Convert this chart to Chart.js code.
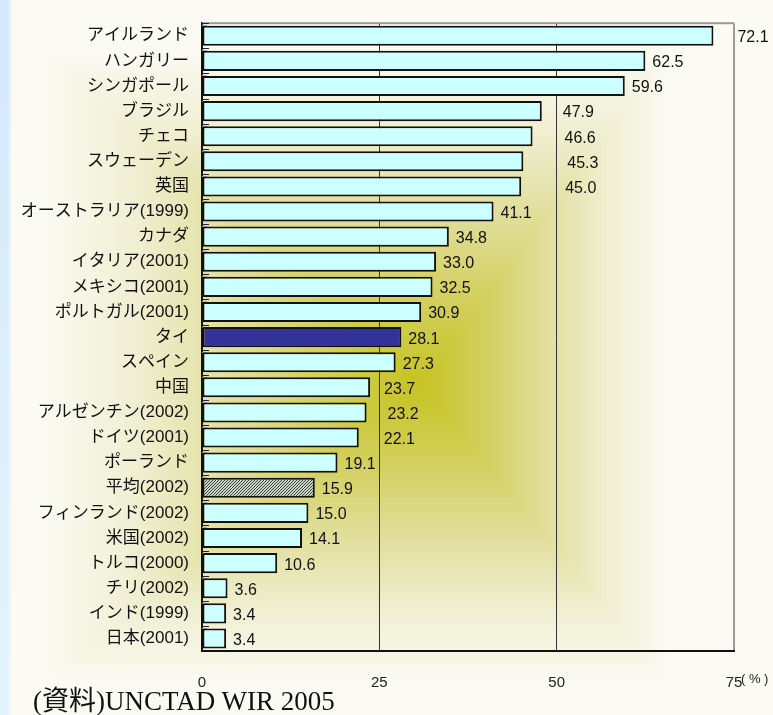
<!DOCTYPE html>
<html>
<head>
<meta charset="utf-8">
<script src="https://cdn.jsdelivr.net/npm/chart.js@4"></script>
<style>
  body { margin: 0; background: #fbfbf4; }
  #wrap { position: relative; width: 773px; height: 715px; overflow: hidden; }
  #pct { position: absolute; left: 741px; top: 671px; font: 13px "Liberation Sans", sans-serif; white-space: pre; color: #222; }
  #source { position: absolute; left: 33px; top: 679px; white-space: nowrap; line-height: 30px; color: #111; font: 27px "Liberation Serif", "Noto Sans CJK JP", serif; }
</style>
</head>
<body>
<div id="wrap">
  <canvas id="chart" width="773" height="715"></canvas>
  <div id="pct">( % )</div>
  <div id="source">(資料)UNCTAD WIR 2005</div>
</div>
<script>
// データ
const categories = [
  "アイルランド", "ハンガリー", "シンガポール", "ブラジル", "チェコ",
  "スウェーデン", "英国", "オーストラリア(1999)", "カナダ", "イタリア(2001)",
  "メキシコ(2001)", "ポルトガル(2001)", "タイ", "スペイン", "中国",
  "アルゼンチン(2002)", "ドイツ(2001)", "ポーランド", "平均(2002)", "フィンランド(2002)",
  "米国(2002)", "トルコ(2000)", "チリ(2002)", "インド(1999)", "日本(2001)",
];
const values = [
  72.1, 62.5, 59.6, 47.9, 46.6, 45.3, 45.0, 41.1, 34.8, 33.0, 32.5, 30.9, 28.1,
  27.3, 23.7, 23.2, 22.1, 19.1, 15.9, 15.0, 14.1, 10.6, 3.6, 3.4, 3.4,
];
const xTicks = [0, 25, 50, 75];
const highlighted = "タイ";
const average = "平均(2002)";

// ラベルと棒の間隔 (px)
const labelGap = [24, 7, 7, 21, 32, 44, 44, 7, 7, 7, 7, 7, 7, 7, 14, 21, 25, 7, 7, 7, 7, 7, 7, 7, 7];

Chart.defaults.font.family = '"Liberation Sans", "Noto Sans CJK JP", sans-serif';
Chart.defaults.color = "#111";

const ctx = document.getElementById("chart").getContext("2d");

// 平均の網掛け
const hatchTile = document.createElement("canvas");
hatchTile.width = 3;
hatchTile.height = 3;
{
  const g = hatchTile.getContext("2d");
  g.fillStyle = "#c9d3c9";
  g.fillRect(0, 0, 3, 3);
  g.fillStyle = "#3a4a3a";
  for (let i = 0; i < 3; i++) g.fillRect(i, 2 - i, 1, 1);
}
const hatch = ctx.createPattern(hatchTile, "repeat");

const barColors = categories.map((c) =>
  c === highlighted ? "#333399" : c === average ? hatch : "#ccffff"
);

// 背景 (中心からの矩形グラデーション)
function makeBackdrop(w, h) {
  const c = document.createElement("canvas");
  c.width = w;
  c.height = h;
  const g = c.getContext("2d");
  const img = g.createImageData(w, h);
  const cx = 420, cy = 385, L = 380, R = 250, T = 340, B = 300;
  const stops = [
    [0, [198, 195, 34]],
    [0.25, [210, 207, 92]],
    [0.5, [225, 222, 155]],
    [0.75, [240, 239, 210]],
    [1, [251, 251, 244]],
  ];
  const colorAt = (t) => {
    for (let i = 1; i < stops.length; i++) {
      if (t <= stops[i][0]) {
        const a = stops[i - 1], b = stops[i];
        const f = (t - a[0]) / (b[0] - a[0]);
        return a[1].map((v, k) => v + (b[1][k] - v) * f);
      }
    }
    return stops[stops.length - 1][1];
  };
  for (let y = 0; y < h; y++) {
    const dy = y - cy;
    const ty = dy < 0 ? -dy / T : dy / B;
    for (let x = 0; x < w; x++) {
      const dx = x - cx;
      const tx = dx < 0 ? -dx / L : dx / R;
      let col = colorAt(Math.min(1, Math.max(tx, ty)));
      if (x < 12) {
        const f = x < 7 ? 1 : 1 - (x - 7) / 5;
        const blue = [212 + (y / h) * 14, 233 + (y / h) * 10, 252];
        col = col.map((v, k) => v + (blue[k] - v) * f);
      }
      const p = (y * w + x) * 4;
      img.data[p] = col[0];
      img.data[p + 1] = col[1];
      img.data[p + 2] = col[2];
      img.data[p + 3] = 255;
    }
  }
  g.putImageData(img, 0, 0);
  return c;
}
const backdropImage = makeBackdrop(773, 715);

const backdrop = {
  id: "backdrop",
  beforeDraw(chart) {
    chart.ctx.drawImage(backdropImage, 0, 0);
  },
};

// 枠線と内側の目盛り
const frame = {
  id: "frame",
  beforeDatasetsDraw(chart) {
    const { ctx: g, chartArea: a } = chart;
    const n = categories.length;
    const rowH = (a.bottom - a.top) / n;
    g.save();
    g.fillStyle = "#9a9a9a";
    g.fillRect(a.left, a.top - 1, a.right - a.left, 2);
    for (let i = 0; i < n; i++) {
      const y = Math.round(a.top + i * rowH);
      g.fillStyle = "#222";
      g.fillRect(a.left, y, 7, 1);
      g.fillStyle = "#aaa";
      g.fillRect(a.left, y + 2, 5, 1);
    }
    g.restore();
  },
};

// 数値ラベル
const valueLabels = {
  id: "valueLabels",
  afterDatasetsDraw(chart) {
    const g = chart.ctx;
    const meta = chart.getDatasetMeta(0);
    g.save();
    g.font = '16px "Liberation Sans", sans-serif';
    g.fillStyle = "#111";
    g.textBaseline = "middle";
    meta.data.forEach((bar, i) => {
      g.fillText(values[i].toFixed(1), bar.x + labelGap[i], bar.y + 2);
    });
    g.restore();
  },
};

new Chart(ctx, {
  type: "bar",
  data: {
    labels: categories,
    datasets: [
      {
        data: values,
        backgroundColor: barColors,
        borderColor: "#111",
        borderWidth: 2,
        borderSkipped: false,
        categoryPercentage: 1,
        barPercentage: 0.8,
      },
    ],
  },
  options: {
    indexAxis: "y",
    responsive: false,
    animation: false,
    layout: { padding: { top: 14, right: 39, left: 0, bottom: 0 } },
    plugins: { legend: { display: false }, tooltip: { enabled: false } },
    scales: {
      x: {
        min: 0,
        max: 75,
        afterBuildTicks: (s) => {
          s.ticks = xTicks.map((v) => ({ value: v }));
        },
        afterFit: (s) => {
          s.height = 64;
        },
        ticks: { font: { size: 15 }, color: "#222", padding: 23 },
        grid: {
          drawTicks: false,
          color: (c) => (c.tick && c.tick.value === 75 ? "#9a9a9a" : c.tick && c.tick.value === 0 ? "rgba(0,0,0,0)" : "#333"),
          lineWidth: (c) => (c.tick && c.tick.value === 75 ? 2 : 1),
        },
        border: { display: true, color: "#111", width: 2 },
      },
      y: {
        afterFit: (s) => {
          s.width = 202;
        },
        ticks: { font: { size: 17 }, color: "#111", padding: 13, autoSkip: false },
        grid: { display: false, drawTicks: false },
        border: { display: true, color: "#111", width: 2 },
      },
    },
  },
  plugins: [backdrop, frame, valueLabels],
});
</script>
</body>
</html>
